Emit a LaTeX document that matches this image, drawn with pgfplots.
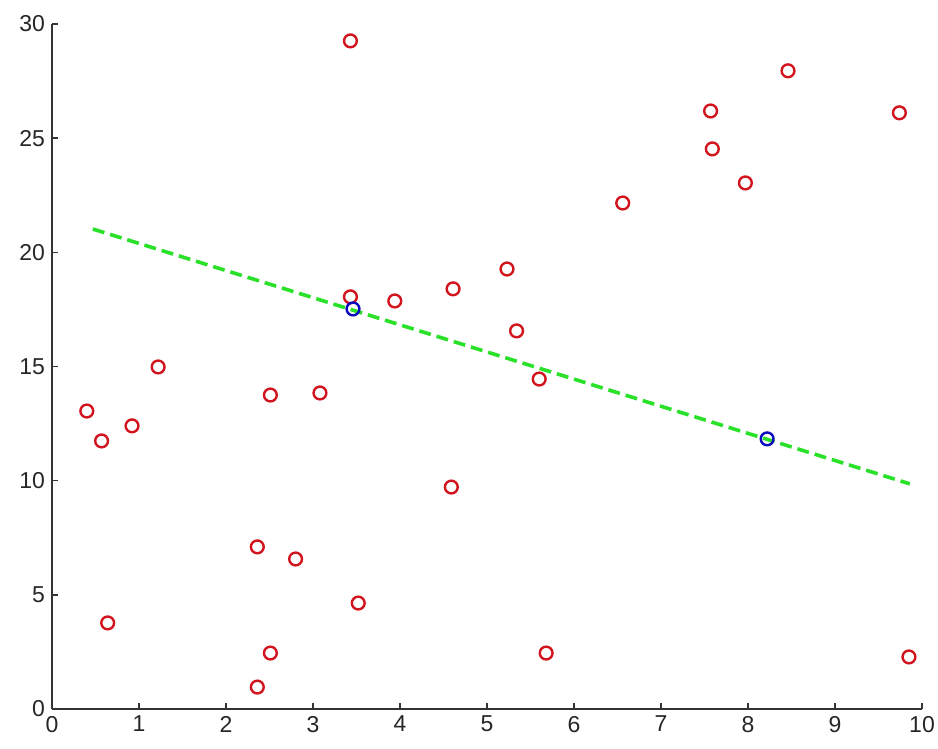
\documentclass[border=0pt]{standalone}
\usepackage{fontspec}
\setmainfont{Liberation Sans}
\usepackage{pgfplots}
\pgfplotsset{compat=1.18}
\definecolor{mred}{RGB}{210,20,30}
\definecolor{mblue}{RGB}{10,10,190}
\definecolor{mgreen}{RGB}{40,225,40}
\begin{document}
\begin{tikzpicture}
\begin{axis}[
  scale only axis,
  width=435pt, height=342.5pt,
  xmin=0, xmax=10, ymin=0, ymax=30,
  axis lines=left,
  axis line style={-, line width=0.7pt, black!80},
  xtick={0,1,...,10}, ytick={0,5,...,30},
  tick align=inside,
  major tick length=3pt,
  tick style={black!80, line width=0.7pt},
  /pgf/number format/assume math mode=true,
  tick label style={font=\fontsize{11.5}{13}\selectfont, text=black!85},
  xticklabel style={yshift=0pt},
  clip=false,
]
\addplot[only marks, mark=o, mark size=3.2pt, mark options={draw=mred, line width=1.2pt}] coordinates {
(3.43,29.26) (7.57,26.19) (8.46,27.95) (9.74,26.11) (7.59,24.53) (7.97,23.04)
(6.56,22.16) (5.23,19.27) (4.61,18.40) (3.94,17.87) (3.43,18.05) (5.34,16.56)
(5.60,14.45) (1.22,14.98) (2.51,13.75) (3.08,13.84) (0.40,13.05) (0.57,11.74)
(0.92,12.40) (4.59,9.72) (2.36,7.10) (2.80,6.57) (3.52,4.64) (0.64,3.77)
(2.51,2.45) (5.68,2.45) (9.85,2.28) (2.36,0.96)
};
\addplot[only marks, mark=o, mark size=3.2pt, mark options={draw=mblue, line width=1.2pt}] coordinates {
(3.46,17.52) (8.22,11.83)
};
\addplot[mgreen, line width=1.8pt, dash pattern=on 6pt off 3pt] coordinates {
(0.47,21.02) (9.86,9.86)
};
\end{axis}
\pgfresetboundingbox
\path (current axis.south west) ++(-26pt,-20pt) coordinate (bl);
\path (current axis.north east) ++(8pt,12pt) coordinate (tr);
\path[use as bounding box] (bl) rectangle (tr);
\end{tikzpicture}
\end{document}
